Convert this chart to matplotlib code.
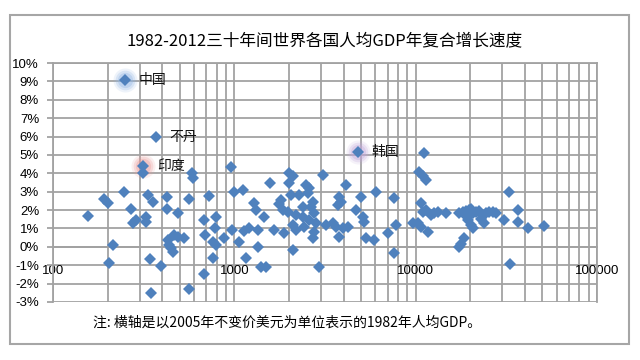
import matplotlib
matplotlib.use("Agg")
import matplotlib.pyplot as plt
from matplotlib.ticker import FixedLocator, FuncFormatter, NullFormatter
from matplotlib.patches import Rectangle

plt.rcParams['font.family'] = ['Noto Sans CJK SC', 'DejaVu Sans']

# 1982 GDP per capita (2005 constant USD) and 1982-2012 compound annual growth (%)
gdp_1982 = [
    156, 191, 201, 214, 204, 246, 269, 276, 287, 313, 325, 325, 334, 356, 342, 347,
    394, 425, 425, 488, 430, 436, 447, 458, 464, 488, 527, 561, 583, 590, 561,
    679, 688, 679, 724, 791, 781, 761, 791, 761, 875, 969, 957, 994, 1114, 1059,
    1157, 1281, 1313, 1202, 1347, 1454, 1347, 1128, 1400, 1492, 1569, 1651,
    1804, 1758, 1850, 1996, 2100, 1996, 2048, 1971, 2182, 2100, 2182, 1874, 2100,
    2477, 2573, 2541, 2266, 2383, 2640, 2708, 2383, 2573, 2742, 2414, 2742, 2708,
    2812, 2922, 3075, 3193, 3490, 3625, 3765, 3862, 3718, 3961, 4218, 3765, 4113,
    4670, 4973, 5100, 5165, 5302, 5870, 6020, 7012, 7566, 7760, 7566,
    11066, 10387, 10928, 11350, 10653, 10928, 11350, 9627, 10256, 10653, 11641,
    12563, 13215, 14630, 12093,
    17250, 18150, 18860, 19590, 20100, 20610, 21410, 22240, 22800, 24310, 25240,
    26550, 27600, 18860, 20100,
    19340, 20100, 20610, 23700, 22800, 18386, 17700, 17250,
    30550, 32540, 36490, 36490, 41430, 50720, 32960,
]
growth_pct = [
    1.7, 2.6, 2.4, 0.1, -0.9, 3.0, 2.05, 1.3, 1.45, 4.0, 1.65, 1.35, 2.8, 2.45, -0.65, -2.5,
    -1.05, 2.7, 2.05, 1.85, 0.38, 0.1, -0.05, -0.3, 0.65, 0.55, 0.5, 2.6, 4.0, 3.75, -2.3,
    1.45, 0.65, -1.5, 2.75, 1.65, 1.05, 0.27, 0.1, -0.6, 0.5, 0.92, 4.35, 3.0, 3.1, 0.27,
    -0.6, 2.4, 2.0, 1.05, 0.0, 1.6, 0.92, 0.87, -1.1, -1.1, 3.5, 0.92,
    2.55, 2.35, 2.0, 4.0, 3.85, 3.5, 2.8, 1.9, 1.75, 1.2, 0.92, 0.76, -0.16,
    3.35, 3.2, 2.95, 2.8, 2.15, 2.15, 2.45, 1.65, 1.45, 1.85, 1.1, 0.8, 0.5,
    1.3, -1.1, 3.9, 1.2, 1.3, 1.1, 2.7, 2.45, 2.3, 1.05, 1.1, 0.55, 3.35,
    2.0, 2.7, 1.6, 1.35, 0.5, 0.38, 3.0, 0.76, 2.65, 1.2, -0.33,
    5.1, 4.05, 3.85, 3.65, 2.4, 1.9, 2.0, 1.3, 1.3, 1.1, 0.8,
    1.85, 1.9, 1.85, 1.75,
    1.85, 1.9, 1.96, 2.0, 2.07, 1.85, 1.9, 1.96, 1.79, 1.85, 1.9,
    1.9, 1.85, 1.68, 1.79,
    1.45, 1.2, 1.0, 1.3, 1.5, 0.5, 0.16, 0.0,
    1.45, 3.0, 2.0, 1.35, 1.05, 1.15, -0.92,
]

# labelled countries
label_names = ['中国', '不丹', '印度', '韩国']
label_gdp = [249, 369, 313, 4789]
label_growth = [9.05, 6.0, 4.4, 5.15]
glow_colors = ['#8fb4e3', None, '#e89a9a', '#c2a8dc']

y_ticks = list(range(-3, 11))
x_ticks = [100, 1000, 10000, 100000]
x_minor = [m * d for d in [100, 1000, 10000] for m in range(2, 10)]

title = '1982-2012三十年间世界各国人均GDP年复合增长速度'
note = '注: 横轴是以2005年不变价美元为单位表示的1982年人均GDP。'

blue = '#4f81bd'
grid_c = '#a2a2a2'

fig = plt.figure(figsize=(6.4, 3.6), dpi=100, facecolor='white')
ax = fig.add_axes([53 / 640, 1 - 302 / 360, (597 - 53) / 640, (302 - 63) / 360])

ax.set_xscale('log')
ax.set_xlim(100, 100000)
ax.set_ylim(-3, 10)

# gridlines: every log step on x, every 1% on y
ax.vlines(x_ticks + x_minor, -3, 10, color=grid_c, linewidth=1.3, zorder=1)
ax.hlines(y_ticks, 100, 100000, color=grid_c, linewidth=1.3, zorder=1)

# glows behind highlighted points
for gx, gy, gc in zip(label_gdp, label_growth, glow_colors):
    if gc is None:
        continue
    for s, a in [(300, 0.15), (200, 0.25), (120, 0.35)]:
        ax.scatter([gx], [gy], s=s, color=gc, alpha=a, linewidths=0, zorder=2)

ax.plot(gdp_1982, growth_pct, linestyle='none', marker='D', markersize=6.3,
        color=blue, markeredgewidth=0, zorder=3)
ax.plot(label_gdp, label_growth, linestyle='none', marker='D', markersize=6.3,
        color=blue, markeredgewidth=0, zorder=3)

for name, gx, gy in zip(label_names, label_gdp, label_growth):
    ax.annotate(name, (gx, gy), xytext=(10, 0), textcoords='offset points',
                fontsize=10, va='center', ha='left', color='#111111', zorder=4)

ax.xaxis.set_major_locator(FixedLocator(x_ticks))
ax.xaxis.set_minor_locator(FixedLocator(x_minor))
ax.xaxis.set_major_formatter(FuncFormatter(lambda v, p: f'{int(v)}'))
ax.xaxis.set_minor_formatter(NullFormatter())
ax.yaxis.set_major_locator(FixedLocator(y_ticks))
ax.yaxis.set_major_formatter(FuncFormatter(lambda v, p: f'{int(v)}%'))

for side in ['top', 'right', 'left']:
    ax.spines[side].set_color(grid_c)
    ax.spines[side].set_linewidth(1.3)
ax.spines['bottom'].set_position(('data', 0))
ax.spines['bottom'].set_color(grid_c)
ax.spines['bottom'].set_linewidth(1.3)

ax.tick_params(axis='x', which='both', length=0, pad=13, labelsize=9.5)
ax.tick_params(axis='y', length=4, color=grid_c, width=1.3, pad=6, labelsize=9.5)
for lab in ax.get_xticklabels() + ax.get_yticklabels():
    lab.set_family(['Liberation Sans', 'DejaVu Sans'])

fig.text(325 / 640, 1 - 41 / 360, title, ha='center', va='center', fontsize=12)
fig.text(93 / 640, 1 - 323 / 360, note, ha='left', va='center', fontsize=10)

fig.patches.append(Rectangle((10 / 640, 1 - 344 / 360), 619 / 640, 329 / 360,
                             transform=fig.transFigure, fill=False,
                             edgecolor='#a6a6a6', linewidth=1.5))

fig.savefig('out.png', dpi=100, facecolor='white')
